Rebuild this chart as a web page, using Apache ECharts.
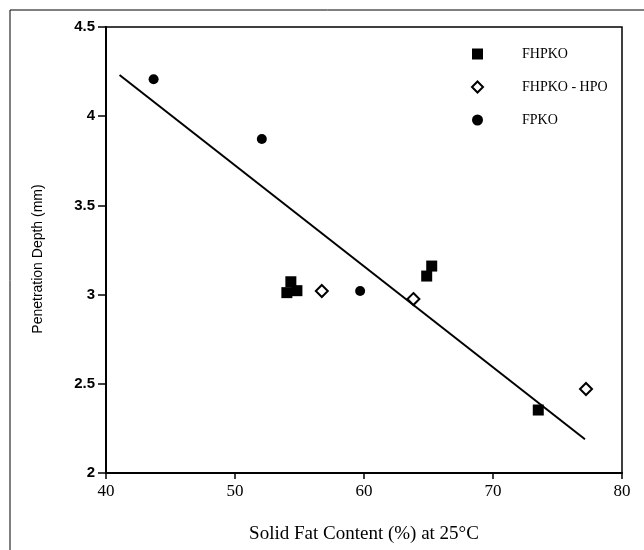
<!DOCTYPE html>
<html>
<head>
<meta charset="utf-8">
<script src="https://cdn.jsdelivr.net/npm/echarts@6/dist/echarts.min.js"></script>
<style>
html,body{margin:0;padding:0;background:#fff;}
#chart{width:644px;height:550px;}
</style>
</head>
<body>
<div id="chart"></div>
<script>
// Data
const seriesNames = ['FHPKO', 'FHPKO - HPO', 'FPKO'];
const fhpkoX = [54.33, 54.02, 54.80, 64.86, 65.25, 73.51];
const fhpkoY = [3.072, 3.011, 3.022, 3.104, 3.160, 2.353];
const hpoX = [56.73, 63.83, 77.21];
const hpoY = [3.02, 2.975, 2.471];
const fpkoX = [43.69, 52.08, 59.70];
const fpkoY = [4.207, 3.872, 3.02];
const fitX = [41.05, 77.13];
const fitY = [4.231, 2.189];
const xTicks = [40, 50, 60, 70, 80];
const yTicks = [2, 2.5, 3, 3.5, 4, 4.5];

const zip = (xs, ys) => xs.map((x, i) => [x, ys[i]]);

const chart = echarts.init(document.getElementById('chart'), null, {renderer: 'canvas'});
chart.setOption({
  animation: false,
  backgroundColor: '#fff',
  graphic: [{
    type: 'rect',
    shape: {x: 10, y: 10, width: 700, height: 600},
    style: {fill: 'none', stroke: '#000', lineWidth: 1},
    silent: true
  }],
  grid: {
    left: 106, right: 22, top: 27, bottom: 77,
    show: true, borderColor: '#000', borderWidth: 1.5, backgroundColor: 'transparent'
  },
  legend: {
    orient: 'vertical',
    left: 466, top: 42,
    itemWidth: 11, itemHeight: 11,
    itemGap: 19,
    data: seriesNames,
    textStyle: {
      fontFamily: 'Liberation Serif', fontSize: 14, color: '#000',
      lineHeight: 14, padding: [0, 0, 0, 34]
    }
  },
  xAxis: {
    type: 'value',
    min: xTicks[0], max: xTicks[xTicks.length - 1], interval: 10,
    name: 'Solid Fat Content (%) at 25°C',
    nameLocation: 'middle', nameGap: 52,
    nameTextStyle: {fontFamily: 'Liberation Serif', fontSize: 19, color: '#000'},
    axisLine: {show: true, onZero: false, lineStyle: {color: '#000', width: 2}},
    axisTick: {show: true, inside: false, length: 6, lineStyle: {color: '#000', width: 1.5}},
    axisLabel: {fontFamily: 'Liberation Serif', fontSize: 17, color: '#000', margin: 10},
    splitLine: {show: false}
  },
  yAxis: {
    type: 'value',
    min: yTicks[0], max: yTicks[yTicks.length - 1], interval: 0.5,
    name: 'Penetration Depth (mm)',
    nameLocation: 'middle', nameGap: 61, nameRotate: 90,
    nameTextStyle: {fontFamily: 'Liberation Sans', fontSize: 14, color: '#000', padding: [0, 18, 0, 0]},
    axisLine: {show: true, onZero: false, lineStyle: {color: '#000', width: 2}},
    axisTick: {show: true, inside: false, length: 8, lineStyle: {color: '#000', width: 1.5}},
    axisLabel: {fontFamily: 'Liberation Sans', fontWeight: 'bold', fontSize: 15, color: '#000', margin: 11},
    splitLine: {show: false}
  },
  series: [
    {
      name: seriesNames[0], type: 'scatter', symbol: 'rect', symbolSize: 11,
      itemStyle: {color: '#000', opacity: 1},
      data: zip(fhpkoX, fhpkoY), z: 3
    },
    {
      name: seriesNames[1], type: 'scatter', symbol: 'diamond', symbolSize: 12,
      itemStyle: {color: '#fff', borderColor: '#000', borderWidth: 2, opacity: 1},
      data: zip(hpoX, hpoY), z: 4
    },
    {
      name: seriesNames[2], type: 'scatter', symbol: 'circle', symbolSize: 10,
      itemStyle: {color: '#000', opacity: 1},
      data: zip(fpkoX, fpkoY), z: 3
    },
    {
      name: 'fit', type: 'line', showSymbol: false, symbol: 'none',
      lineStyle: {color: '#000', width: 2},
      data: zip(fitX, fitY), z: 2, silent: true
    }
  ]
});
</script>
</body>
</html>
